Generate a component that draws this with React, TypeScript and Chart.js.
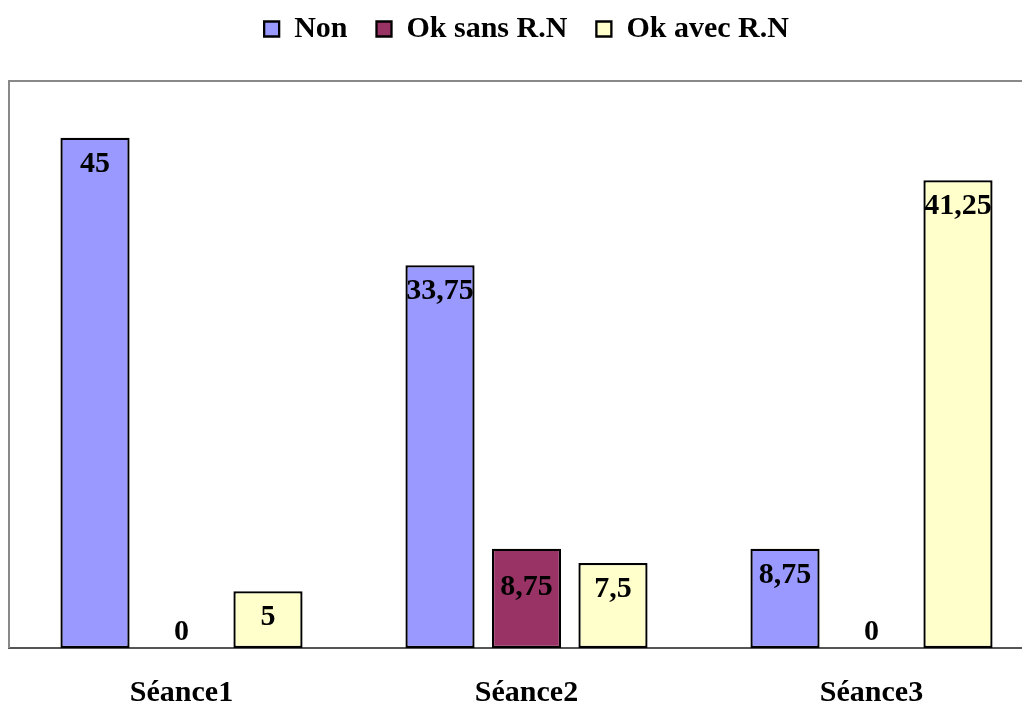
import React, { useEffect, useRef } from "react";
import { Chart, registerables } from "chart.js";

Chart.register(...registerables);

const categories = ["Séance1", "Séance2", "Séance3"];
const seriesNames = ["Non", "Ok sans R.N", "Ok avec R.N"];
const nonValues = [45, 33.75, 8.75];
const okSansValues = [0, 8.75, 0];
const okAvecValues = [5, 7.5, 41.25];
const yMin = 0;
const yMax = 50;

const FONT = "'Liberation Serif', 'Times New Roman', serif";

const fmt = (v: number) => String(v).replace(".", ",");

const framePlugin = {
  id: "frame",
  beforeDatasetsDraw(chart: any) {
    const { ctx, chartArea } = chart;
    const { left, top, right, bottom } = chartArea;
    ctx.save();
    ctx.strokeStyle = "#898989";
    ctx.lineWidth = 2;
    ctx.beginPath();
    ctx.moveTo(left, bottom);
    ctx.lineTo(left, top);
    ctx.lineTo(right, top);
    ctx.lineTo(right, bottom);
    ctx.stroke();
    ctx.restore();
  },
};

const valueLabelPlugin = {
  id: "valueLabels",
  afterDatasetsDraw(chart: any) {
    const { ctx } = chart;
    ctx.save();
    ctx.font = `bold 30px ${FONT}`;
    ctx.fillStyle = "#000";
    ctx.textAlign = "center";
    ctx.textBaseline = "alphabetic";
    chart.data.datasets.forEach((ds: any, i: number) => {
      const meta = chart.getDatasetMeta(i);
      const offset = ds.labelOffset ?? 34;
      meta.data.forEach((el: any, j: number) => {
        const v = ds.data[j];
        const y = v === 0 ? el.base - 8 : el.y + offset;
        ctx.fillText(fmt(v), el.x, y);
      });
    });
    ctx.restore();
  },
};

export default function App() {
  const ref = useRef<HTMLCanvasElement | null>(null);

  useEffect(() => {
    if (!ref.current) return;
    const common = {
      borderColor: "#000",
      borderWidth: 2.3,
      borderSkipped: false,
      categoryPercentage: 0.752,
      barPercentage: 0.8,
    };
    const chart = new Chart(ref.current, {
      type: "bar",
      data: {
        labels: categories,
        datasets: [
          { label: seriesNames[0], data: nonValues, backgroundColor: "#9999FF", ...common },
          { label: seriesNames[1], data: okSansValues, backgroundColor: "#993366", labelOffset: 46, ...common },
          { label: seriesNames[2], data: okAvecValues, backgroundColor: "#FFFFCC", ...common },
        ] as any,
      },
      options: {
        responsive: false,
        animation: false,
        devicePixelRatio: 1,
        layout: { padding: { left: 1, right: 7, top: 0, bottom: 41 } },
        scales: {
          x: {
            grid: { display: false },
            border: { display: true, color: "#555", width: 2 },
            ticks: {
              color: "#000",
              padding: 19,
              font: { family: FONT, size: 30, weight: "bold" },
            },
          },
          y: {
            display: false,
            min: yMin,
            max: yMax,
          },
        },
        plugins: {
          legend: {
            position: "top",
            labels: {
              color: "#000",
              boxWidth: 15,
              boxHeight: 15,
              padding: 29,
              font: { family: FONT, size: 30, weight: "bold" },
            },
          },
          title: {
            display: true,
            text: "",
            weight: 500,
            padding: { top: 0, bottom: 17 },
            font: { size: 10, lineHeight: 1 },
          } as any,
          tooltip: { enabled: false },
        },
      } as any,
      plugins: [framePlugin, valueLabelPlugin],
    });
    return () => chart.destroy();
  }, []);

  return (
    <div style={{ width: 1022, height: 697, overflow: "hidden" }}>
      <canvas
        ref={ref}
        width={1043}
        height={786}
        style={{ display: "block", marginTop: -23, width: 1043, height: 786 }}
      />
    </div>
  );
}
